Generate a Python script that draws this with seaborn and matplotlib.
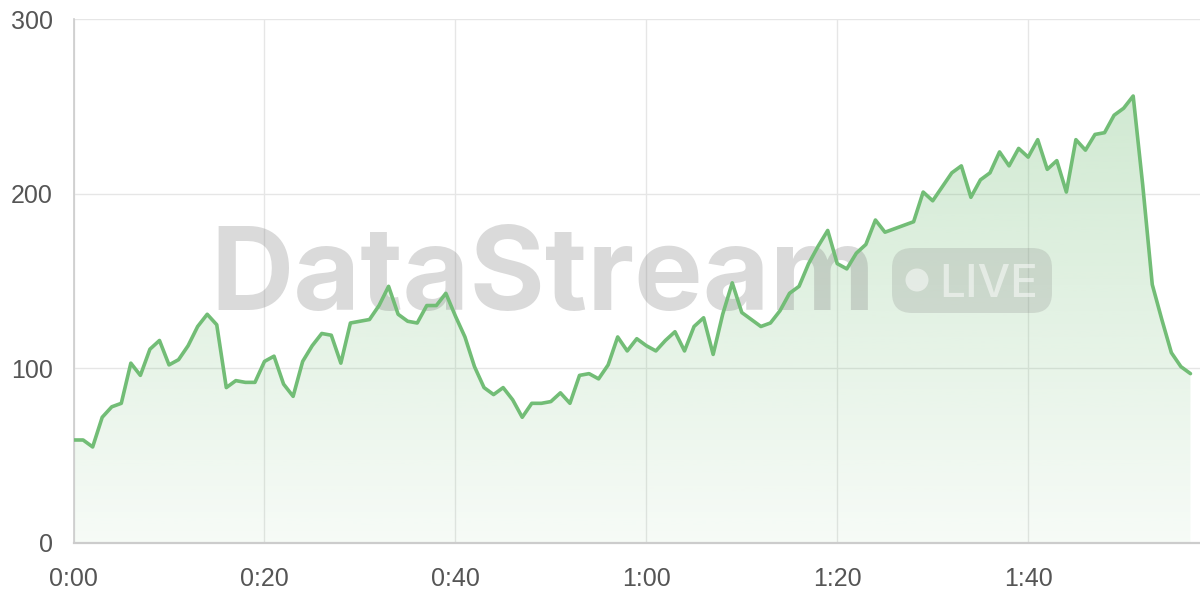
import numpy as np
import pandas as pd
import seaborn as sns
import matplotlib.pyplot as plt
from matplotlib.patches import FancyBboxPatch, Circle

# -----------------------
# Data (one sample per second)
# -----------------------
seconds = np.arange(118)
values = [
    59, 59, 55, 72, 78, 80, 103, 96, 111, 116,
    102, 105, 113, 124, 131, 125, 89, 93, 92, 92,
    104, 107, 91, 84, 104, 113, 120, 119, 103, 126,
    127, 128, 136, 147, 131, 127, 126, 136, 136, 143,
    130, 118, 101, 89, 85, 89, 82, 72, 80, 80,
    81, 86, 80, 96, 97, 94, 102, 118, 110, 117,
    113, 110, 116, 121, 110, 124, 129, 108, 131, 149,
    132, 128, 124, 126, 133, 143, 147, 160, 170, 179,
    160, 157, 166, 171, 185, 178, 180, 182, 184, 201,
    196, 204, 212, 216, 198, 208, 212, 224, 216, 226,
    221, 231, 214, 219, 201, 231, 225, 234, 235, 245,
    249, 256, 205, 148, 128, 109, 101, 97,
]
y_ticks = [0, 100, 200, 300]
x_ticks = [0, 20, 40, 60, 80, 100]
x_labels = ["0:00", "0:20", "0:40", "1:00", "1:20", "1:40"]

LINE = "#72bd76"
GRID = "#e6e6e6"

df = pd.DataFrame({"t": seconds, "v": values})

# -----------------------
# Setup
# -----------------------
sns.set_theme(style="whitegrid")
plt.rcParams["font.family"] = ["Liberation Sans", "DejaVu Sans"]

fig = plt.figure(figsize=(12, 6), dpi=100)
ax = fig.add_axes([0.0613, 0.095, 0.9387, 0.873])

# gradient fill under the line
poly = ax.fill_between(df["t"], df["v"], 0, color="none", lw=0)
grad = np.zeros((256, 1, 4))
grad[:, 0, :3] = np.array([114, 189, 118]) / 255
grad[:, 0, 3] = np.linspace(0.06, 0.33, 256)
im = ax.imshow(grad, extent=[0, seconds[-1], 0, max(values)], origin="lower",
               aspect="auto", zorder=1)
im.set_clip_path(poly.get_paths()[0], transform=ax.transData)

sns.lineplot(data=df, x="t", y="v", ax=ax, color=LINE, lw=2.6, zorder=4)

# -----------------------
# Watermark
# -----------------------
tr = fig.dpi_scale_trans
ax.text(2.10, 2.90, "DataStream", transform=tr, fontsize=83, fontweight="bold",
        family="Inter", color="#808080", alpha=0.29, va="baseline", ha="left",
        zorder=2, clip_on=False)
badge = FancyBboxPatch((8.92, 2.87), 1.60, 0.65, transform=tr,
                       boxstyle="round,pad=0,rounding_size=0.2",
                       fc="#808080", ec="none", alpha=0.22, zorder=2, clip_on=False)
ax.add_patch(badge)
ax.add_patch(Circle((9.17, 3.20), 0.115, transform=tr, fc="white", ec="none",
                    alpha=0.5, zorder=2.5, clip_on=False))
ax.text(9.39, 3.03, "LIVE", transform=tr, fontsize=33, family="Inter",
        fontweight="medium", color="white", alpha=0.5, va="baseline",
        ha="left", zorder=2.5, clip_on=False)

# -----------------------
# Axes styling
# -----------------------
ax.set_xlim(0, 118)
ax.set_ylim(0, 300)
ax.set_yticks(y_ticks)
ax.set_xticks(x_ticks, x_labels)
ax.set_xlabel("")
ax.set_ylabel("")
ax.grid(True, color=GRID, lw=1)
ax.tick_params(axis="both", length=11, width=1, color=GRID, labelsize=18,
               labelcolor="#555555")
ax.tick_params(axis="x", pad=6)
ax.tick_params(axis="y", pad=4)
for s in ["top", "right"]:
    ax.spines[s].set_visible(False)
ax.spines["left"].set_color("#cccccc")
ax.spines["left"].set_linewidth(1.2)
ax.spines["bottom"].set_color("#cccccc")
ax.spines["bottom"].set_linewidth(1.6)
ax.set_facecolor("white")
fig.patch.set_facecolor("white")

plt.savefig("out.png", dpi=100)
